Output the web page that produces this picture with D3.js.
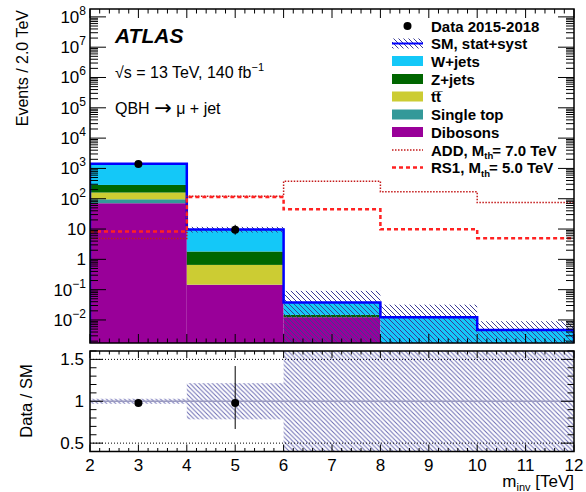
<!DOCTYPE html>
<html lang="en">
<head>
<meta charset="UTF-8">
<title>QBH mu + jet</title>
<script src="https://d3js.org/d3.v7.min.js"></script>
<style>
  body, html { margin: 0; background: #fff; overflow: hidden; }
  svg { font-family: "Liberation Sans", Arial, sans-serif; }
  .leg { font-weight: bold; font-size: 15px; }
</style>
</head>
<body>
<script>
// bin edges in TeV
const edges = [2, 4, 6, 8, 10, 12];
// stacked backgrounds (events per bin)
const dibosons  = [71, 0.145, 0.0123, 0, 0];
const singleTop = [25, 0.001, 0, 0, 0];
const ttbar     = [64, 0.51, 0, 0, 0];
const zJets     = [125, 1.16, 0.0024, 0, 0];
const wJets     = [1145, 7.9, 0.0233, 0.0123, 0.0047];
const smErr     = [43, 2.1, 0.053, 0.0197, 0.0044];
// data
const dataX     = [3, 5];
const dataY     = [1400, 9.5];
const dataErrLo = [37, 3.0];
const dataErrHi = [38, 4.3];
// signals
const addSig = [4.9, 120, 380, 170, 75];
const rs1Sig = [8.3, 115, 45, 9.8, 5.0];

const keys = ["dibosons", "singleTop", "ttbar", "zJets", "wJets"];
const colors = {dibosons: "#990099", singleTop: "#339999", ttbar: "#cccc33", zJets: "#006600", wJets: "#14c8f8"};

const W = 586, H = 492;
const L = 90, R = 574, mainTop = 9, mainBot = 343, ratTop = 351, ratBot = 451.5;
const yMin = Math.pow(10, -2.76), yMax = Math.pow(10, 8.26);

const x = d3.scaleLinear().domain([2, 12]).range([L, R]);
const y = d3.scaleLog().domain([yMin, yMax]).range([mainBot, mainTop]);
const yr = d3.scaleLinear().domain([0.4, 1.6]).range([ratBot, ratTop]);
const yc = v => y(Math.max(v, yMin));

const svg = d3.select("body").append("svg").attr("width", W).attr("height", H);
const defs = svg.append("defs");

function hatch(id, color, s, w) {
  const p = defs.append("pattern").attr("id", id).attr("patternUnits", "userSpaceOnUse")
    .attr("width", s).attr("height", s);
  p.append("path").attr("d", `M-1,-1L${s+1},${s+1}M${-1},${s-1}L1,${s+1}M${s-1},-1L${s+1},1`)
    .attr("stroke", color).attr("stroke-width", w).attr("fill", "none");
}
hatch("hm", "#3c3c96", 5, 1);
hatch("hr", "#6a6ab2", 4.5, 1);

defs.append("clipPath").attr("id", "cm").append("rect")
  .attr("x", L).attr("y", mainTop).attr("width", R - L).attr("height", mainBot - mainTop);
defs.append("clipPath").attr("id", "cr").append("rect")
  .attr("x", L).attr("y", ratTop).attr("width", R - L).attr("height", ratBot - ratTop);

// table for the stack
const table = edges.slice(0, -1).map((e, i) => ({
  lo: e, hi: edges[i + 1],
  dibosons: dibosons[i], singleTop: singleTop[i], ttbar: ttbar[i], zJets: zJets[i], wJets: wJets[i]
}));
const total = table.map(d => keys.reduce((s, k) => s + d[k], 0));
const series = d3.stack().keys(keys)(table);

const gm = svg.append("g").attr("clip-path", "url(#cm)");

series.forEach(s => {
  gm.selectAll(null).data(s.filter(d => d[1] > d[0])).enter().append("rect")
    .attr("x", d => x(d.data.lo))
    .attr("width", d => x(d.data.hi) - x(d.data.lo))
    .attr("y", d => yc(d[1]))
    .attr("height", d => yc(d[0]) - yc(d[1]))
    .attr("fill", colors[s.key]);
});

// SM uncertainty band
gm.selectAll(null).data(table).enter().append("rect")
  .attr("x", d => x(d.lo)).attr("width", d => x(d.hi) - x(d.lo))
  .attr("y", (d, i) => yc(total[i] + smErr[i]))
  .attr("height", (d, i) => yc(total[i] - smErr[i]) - yc(total[i] + smErr[i]))
  .attr("fill", "url(#hm)");

// total SM outline
function stepPath(vals, ys, closeEnds) {
  let p = d3.path();
  if (closeEnds) { p.moveTo(x(edges[0]), mainBot); p.lineTo(x(edges[0]), ys(vals[0])); }
  else p.moveTo(x(edges[0]), ys(vals[0]));
  vals.forEach((v, i) => {
    p.lineTo(x(edges[i + 1]), ys(v));
    if (i < vals.length - 1) p.lineTo(x(edges[i + 1]), ys(vals[i + 1]));
  });
  if (closeEnds) p.lineTo(x(edges[edges.length - 1]), mainBot);
  return p.toString();
}
gm.append("path").attr("d", stepPath(total, yc, true))
  .attr("fill", "none").attr("stroke", "#0000ff").attr("stroke-width", 2.5);

gm.append("path").attr("d", stepPath(addSig, yc, false))
  .attr("fill", "none").attr("stroke", "#c41a1a").attr("stroke-width", 1.5).attr("stroke-dasharray", "1.5,1.5");
gm.append("path").attr("d", stepPath(rs1Sig, yc, false))
  .attr("fill", "none").attr("stroke", "#ff2222").attr("stroke-width", 2.5).attr("stroke-dasharray", "4,3");

// data
gm.selectAll(null).data(dataX).enter().append("line")
  .attr("x1", d => x(d)).attr("x2", d => x(d))
  .attr("y1", (d, i) => yc(dataY[i] - dataErrLo[i])).attr("y2", (d, i) => yc(dataY[i] + dataErrHi[i]))
  .attr("stroke", "#000").attr("stroke-width", 1);
gm.selectAll(null).data(dataX).enter().append("circle")
  .attr("cx", d => x(d)).attr("cy", (d, i) => yc(dataY[i])).attr("r", 4).attr("fill", "#000");

// ---- ratio panel
const gr = svg.append("g").attr("clip-path", "url(#cr)");
gr.selectAll(null).data(table).enter().append("rect")
  .attr("x", d => x(d.lo)).attr("width", d => x(d.hi) - x(d.lo))
  .attr("y", (d, i) => Math.max(ratTop, yr(1 + smErr[i] / total[i])))
  .attr("height", (d, i) => Math.min(ratBot, yr(1 - smErr[i] / total[i])) - Math.max(ratTop, yr(1 + smErr[i] / total[i])))
  .attr("fill", "url(#hr)");
gr.append("line").attr("x1", L).attr("x2", R).attr("y1", yr(1)).attr("y2", yr(1))
  .attr("stroke", "#9a9ac0").attr("stroke-width", 1.5);
[0.5, 1.5].forEach(v => gr.append("line").attr("x1", L).attr("x2", R).attr("y1", yr(v)).attr("y2", yr(v))
  .attr("stroke", "#000").attr("stroke-width", 1).attr("stroke-dasharray", "1,2"));
gr.selectAll(null).data(dataX).enter().append("line")
  .attr("x1", d => x(d)).attr("x2", d => x(d))
  .attr("y1", (d, i) => yr((dataY[i] - dataErrLo[i]) / total[i]))
  .attr("y2", (d, i) => yr((dataY[i] + dataErrHi[i]) / total[i]))
  .attr("stroke", "#000").attr("stroke-width", 1);
gr.selectAll(null).data(dataX).enter().append("circle")
  .attr("cx", d => x(d)).attr("cy", (d, i) => yr(dataY[i] / total[i])).attr("r", 4).attr("fill", "#000");

// ---- frames and ticks
const ax = svg.append("g").attr("stroke", "#000").attr("stroke-width", 1);
function tick(x1, y1, x2, y2) { ax.append("line").attr("x1", x1).attr("y1", y1).attr("x2", x2).attr("y2", y2); }

[[mainTop, mainBot], [ratTop, ratBot]].forEach(([t, b]) => {
  ax.append("rect").attr("x", L).attr("y", t).attr("width", R - L).attr("height", b - t)
    .attr("fill", "none").attr("stroke-width", 1.5);
});

const xMajor = d3.range(2, 12.001, 1);
const xMinor = d3.range(2, 12.001, 0.2);
xMinor.forEach(v => {
  const major = Math.abs(v - Math.round(v)) < 1e-6;
  const lm = major ? 9 : 4.5, lr = major ? 7 : 3.5;
  tick(x(v), mainBot, x(v), mainBot - lm); tick(x(v), mainTop, x(v), mainTop + lm);
  tick(x(v), ratBot, x(v), ratBot - lr); tick(x(v), ratTop, x(v), ratTop + lr);
});

const decades = d3.range(-3, 9);
decades.forEach(d => {
  d3.range(1, 10).forEach(k => {
    const v = k * Math.pow(10, d);
    if (v < yMin || v > yMax) return;
    const len = k === 1 ? 16 : 8;
    tick(L, y(v), L + len, y(v)); tick(R, y(v), R - len, y(v));
  });
});

d3.range(0.4, 1.601, 0.1).forEach(v => {
  const major = Math.abs(v * 2 - Math.round(v * 2)) < 1e-6;
  const len = major ? 13 : 6.5;
  tick(L, yr(v), L + len, yr(v)); tick(R, yr(v), R - len, yr(v));
});

// tick labels
const lab = svg.append("g").attr("font-size", 17).attr("fill", "#000");
decades.filter(d => d >= -2 && d <= 8).forEach(d => {
  const t = lab.append("text").attr("x", 86).attr("y", y(Math.pow(10, d)) + 6).attr("text-anchor", "end");
  if (d === 0) t.text("1");
  else if (d === 1) t.text("10");
  else {
    t.append("tspan").text("10");
    t.append("tspan").attr("font-size", 12).attr("dy", -8).text(d < 0 ? "\u2212" + (-d) : d);
  }
});
[0.5, 1, 1.5].forEach(v => lab.append("text").attr("x", 84).attr("y", yr(v) + 6)
  .attr("text-anchor", "end").text(v));
xMajor.forEach(v => lab.append("text").attr("x", x(v)).attr("y", 471).attr("text-anchor", "middle").text(v));

// axis titles
svg.append("text").attr("transform", "translate(28,10) rotate(-90)").attr("text-anchor", "end")
  .attr("font-size", 16).text("Events / 2.0 TeV");
svg.append("text").attr("transform", "translate(32,401) rotate(-90)").attr("text-anchor", "middle")
  .attr("font-size", 16.5).text("Data / SM");
const xt = svg.append("text").attr("x", R).attr("y", 487).attr("text-anchor", "end").attr("font-size", 17);
xt.append("tspan").text("m");
xt.append("tspan").attr("font-size", 11).attr("dy", 4).text("inv");
xt.append("tspan").attr("dy", -4).text(" [TeV]");

// ATLAS labels
svg.append("text").attr("x", 115).attr("y", 43).attr("font-size", 21).attr("font-weight", "bold")
  .attr("font-style", "italic").text("ATLAS");
const en = svg.append("text").attr("x", 115).attr("y", 78).attr("font-size", 16);
en.append("tspan").text("\u221As = 13 TeV, 140 fb");
en.append("tspan").attr("font-size", 11).attr("dy", -7).text("\u22121");
const qb = svg.append("text").attr("x", 115).attr("y", 114).attr("font-size", 16);
qb.append("tspan").text("QBH ");
qb.append("tspan").attr("font-size", 21).attr("font-family", "DejaVu Sans").attr("dy", 1).text("\u2192");
qb.append("tspan").attr("dy", -1).text(" \u03BC + jet");

// legend
const lg = svg.append("g");
const lx0 = 392, lx1 = 423, tx = 431;
const rowY = [26, 43.5, 61, 79, 96.5, 114.5, 132, 150, 167.5];
const legLabels = ["Data 2015-2018", "SM, stat+syst", "W+jets", "Z+jets", "t\u0305t\u0305", "Single top", "Dibosons"];
lg.append("circle").attr("cx", (lx0 + lx1) / 2).attr("cy", rowY[0]).attr("r", 4).attr("fill", "#000");
lg.append("rect").attr("x", lx0).attr("y", rowY[1] - 5).attr("width", lx1 - lx0).attr("height", 10).attr("fill", "url(#hm)");
lg.append("line").attr("x1", lx0).attr("x2", lx1).attr("y1", rowY[1]).attr("y2", rowY[1])
  .attr("stroke", "#0000ff").attr("stroke-width", 2);
["wJets", "zJets", "ttbar", "singleTop", "dibosons"].forEach((k, i) => {
  lg.append("rect").attr("x", lx0).attr("y", rowY[i + 2] - 5).attr("width", lx1 - lx0).attr("height", 10)
    .attr("fill", colors[k]);
});
legLabels.forEach((t, i) => {
  const el = lg.append("text").attr("class", "leg").attr("x", tx).attr("y", rowY[i] + 5.5);
  if (i === 4) { el.append("tspan").text("t"); el.append("tspan").text("t\u0305"); }
  else el.text(t);
});
lg.append("line").attr("x1", lx0).attr("x2", lx1).attr("y1", rowY[7]).attr("y2", rowY[7])
  .attr("stroke", "#c41a1a").attr("stroke-width", 1.5).attr("stroke-dasharray", "1.5,1.5");
lg.append("line").attr("x1", lx0).attr("x2", lx1).attr("y1", rowY[8]).attr("y2", rowY[8])
  .attr("stroke", "#ff2222").attr("stroke-width", 2.5).attr("stroke-dasharray", "4,3");
[["ADD, M", "= 7.0 TeV"], ["RS1, M", "= 5.0 TeV"]].forEach(([a, b], i) => {
  const el = lg.append("text").attr("class", "leg").attr("x", tx).attr("y", rowY[7 + i] + 5.5);
  el.append("tspan").text(a);
  el.append("tspan").attr("font-size", 9.5).attr("dy", 3.5).text("th");
  el.append("tspan").attr("dy", -3.5).attr("dx", -1).text(b);
});
</script>
</body>
</html>
